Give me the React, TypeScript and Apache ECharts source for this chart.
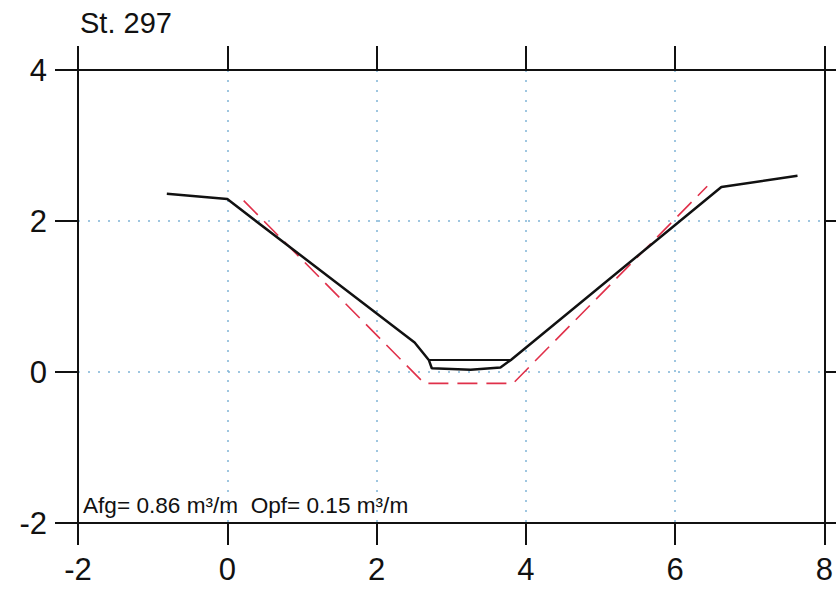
import React, { useEffect, useRef } from "react";
import * as echarts from "echarts";

const xTicks = [-2, 0, 2, 4, 6, 8];
const yTicks = [-2, 0, 2, 4];

// Existing profile (black)
const profileX = [-0.81, 0, 2.51, 2.7, 2.74, 3.26, 3.66, 3.8, 6.62, 7.64];
const profileY = [2.36, 2.29, 0.39, 0.16, 0.05, 0.03, 0.06, 0.16, 2.45, 2.6];

// Water line / upper fill line (black)
const waterX = [2.7, 3.8];
const waterY = [0.16, 0.16];

// Design profile (red dashed)
const designX = [0.22, 2.64, 3.83, 6.43];
const designY = [2.27, -0.15, -0.15, 2.46];

const title = "St. 297";
const note = "Afg= 0.86 m³/m  Opf= 0.15 m³/m";

const zip = (xs: number[], ys: number[]) => xs.map((x, i) => [x, ys[i]]);

export default function App() {
  const ref = useRef<HTMLDivElement>(null);
  useEffect(() => {
    if (!ref.current) return;
    const chart = echarts.init(ref.current, null, { renderer: "svg" });
    const font = "Liberation Sans, Arial, sans-serif";
    const gridLine = { show: true, lineStyle: { color: "#7fb4d6", width: 1.5, type: [2, 8] as any } };
    chart.setOption({
      animation: false,
      backgroundColor: "#ffffff",
      grid: { left: 78, right: 4, top: 70, bottom: 69 },
      title: {
        text: title,
        left: 80,
        top: 8,
        padding: 0,
        textStyle: { fontFamily: font, fontSize: 29, fontWeight: "normal", color: "#111" },
      },
      graphic: [
        {
          type: "text",
          left: 83,
          top: 494,
          style: { text: note, fontFamily: font, fontSize: 22.6, fill: "#111" },
        },
      ],
      xAxis: [
        {
          type: "value",
          position: "bottom",
          min: xTicks[0],
          max: xTicks[xTicks.length - 1],
          interval: 2,
          axisLine: { show: true, onZero: false, lineStyle: { color: "#111", width: 2 } },
          axisTick: { show: true, inside: false, length: 22, lineStyle: { color: "#111", width: 2 } },
          axisLabel: { margin: 31, fontFamily: font, fontSize: 31, color: "#111" },
          splitLine: { ...gridLine, showMinLine: false, showMaxLine: false },
        },
        {
          type: "value",
          position: "top",
          min: xTicks[0],
          max: xTicks[xTicks.length - 1],
          interval: 2,
          axisLine: { show: true, onZero: false, lineStyle: { color: "#111", width: 2 } },
          axisTick: { show: true, inside: false, length: 24, lineStyle: { color: "#111", width: 2 } },
          axisLabel: { show: false },
          splitLine: { show: false },
        },
      ],
      yAxis: [
        {
          type: "value",
          position: "left",
          min: yTicks[0],
          max: yTicks[yTicks.length - 1],
          interval: 2,
          axisLine: { show: true, onZero: false, lineStyle: { color: "#111", width: 2 } },
          axisTick: { show: true, inside: false, length: 23, lineStyle: { color: "#111", width: 2 } },
          axisLabel: { margin: 31, fontFamily: font, fontSize: 31, color: "#111" },
          splitLine: { ...gridLine, showMinLine: false, showMaxLine: false },
        },
        {
          type: "value",
          position: "right",
          min: yTicks[0],
          max: yTicks[yTicks.length - 1],
          interval: 2,
          axisLine: { show: true, onZero: false, lineStyle: { color: "#111", width: 2 } },
          axisTick: { show: true, inside: false, length: 23, lineStyle: { color: "#111", width: 2 } },
          axisLabel: { show: false },
          splitLine: { show: false },
        },
      ],
      series: [
        {
          type: "line",
          data: zip(designX, designY),
          symbol: "none",
          lineStyle: { color: "#e0304a", width: 1.6, type: [20, 9] },
        },
        {
          type: "line",
          data: zip(profileX, profileY),
          symbol: "none",
          lineStyle: { color: "#111", width: 2.5 },
        },
        {
          type: "line",
          data: zip(waterX, waterY),
          symbol: "none",
          lineStyle: { color: "#111", width: 2 },
        },
      ],
    });
    return () => chart.dispose();
  }, []);
  return (
    <div
      ref={ref}
      style={{ position: "fixed", left: 0, top: 0, width: 836, height: 592, background: "#fff" }}
    />
  );
}
